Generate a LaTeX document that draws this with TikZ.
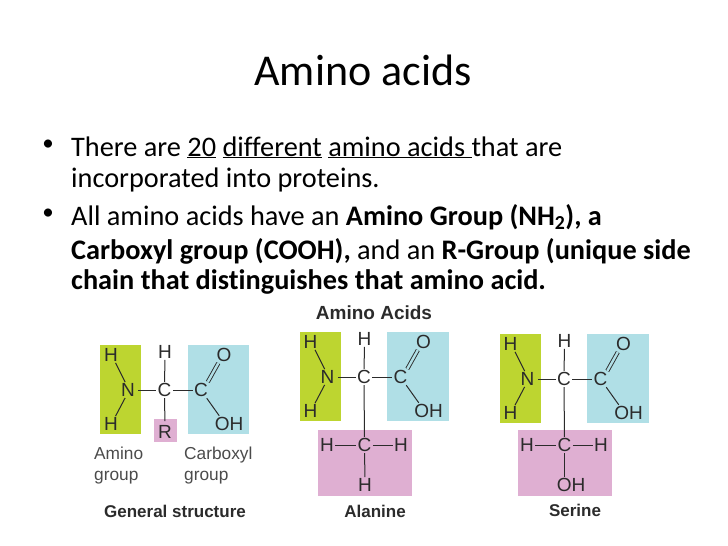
\documentclass[tikz,border=0pt]{standalone}
\usepackage{fontspec}
\setmainfont[Ligatures=NoCommon]{Carlito}
\newfontfamily\figfont{Liberation Sans}
\definecolor{aminogreen}{HTML}{BDD530}
\definecolor{carbblue}{HTML}{B0DFE6}
\definecolor{rpink}{HTML}{DFAFD2}
\definecolor{figink}{HTML}{2B2B2B}
\tikzset{
  bodyline/.style={anchor=base west,inner sep=0pt,font=\fontsize{28.3}{32}\selectfont,text=black},
  bulletmark/.style={anchor=base,inner sep=0pt,font=\fontsize{23}{32}\selectfont,text=black},
  titletext/.style={anchor=base,inner sep=0pt,font=\fontsize{44}{50}\selectfont,text=black},
  atom/.style={inner sep=1.2pt,font=\figfont\fontsize{19}{22}\selectfont,text=figink},
  grouplabel/.style={anchor=base west,inner sep=0pt,font=\figfont\fontsize{17.3}{20}\selectfont,text=figink!85},
  captiontext/.style={inner sep=0pt,font=\figfont\bfseries\fontsize{17}{20}\selectfont,text=figink},
  headtext/.style={inner sep=0pt,font=\figfont\bfseries\fontsize{19}{22}\selectfont,text=figink},
  bond/.style={draw=figink,line width=1pt},
  dbond/.style={draw=figink,line width=0.9pt,double=carbblue,double distance=2.4pt},
}
\newcommand{\aminocore}[3]{%
  \begin{scope}[shift={(#2,#3)}]
    \fill[aminogreen] (0,-45) rectangle (41,44);
    \fill[carbblue] (87.5,-45) rectangle (149,44);
    \node[atom] (#1n) at (28,0) {N};
    \node[atom] (#1h1) at (11,-35) {H};
    \node[atom] (#1h2) at (11,34) {H};
    \node[atom] (#1c) at (64.5,0) {C};
    \node[atom] (#1h3) at (65,-38) {H};
    \node[atom] (#1c2) at (101,0) {C};
    \node[atom] (#1o) at (124,-35) {O};
    \node[atom] (#1oh) at (129,34) {OH};
    \draw[bond] (#1h1.-60) -- (#1n.110);
    \draw[bond] (#1h2.60) -- (#1n.-110);
    \draw[bond] ([xshift=2pt]#1n.east) -- (#1c);
    \draw[bond] (#1c) -- (#1h3);
    \draw[bond] (#1c) -- (#1c2);
    \draw[dbond] (#1c2.50) -- (#1o.-125);
    \draw[bond] (#1c2.-55) -- (#1oh.140);
  \end{scope}}
\begin{document}
\begin{tikzpicture}[x=1pt,y=-1pt]
\useasboundingbox (0,0) rectangle (728,546);
\node[titletext] (title) at (363,85) {Amino acids};
\node[bulletmark] (b1) at (48,150.5) {•};
\node[bodyline] (l1) at (71,156) {There are \underline{20} \underline{different} \underline{amino acids\ }that are};
\node[bodyline] (l2) at (71,187) {incorporated into proteins.};
\node[bulletmark] (b2) at (48,219) {•};
\node[bodyline] (l3) at (71,225) {All amino acids have an \textbf{Amino Group (NH\textsubscript{2}), a}};
\node[bodyline] (l4) at (71,259) {\textbf{Carboxyl group (COOH),} and an \textbf{R-Group (unique side}};
\node[bodyline] (l5) at (71,289) {\textbf{chain that distinguishes that amino acid.}};

% General structure
\aminocore{g}{100}{390}
\fill[rpink] (154,419) rectangle (177,442);
\node[atom] (gr) at (165,432) {R};
\draw[bond,shorten >=3pt] (gc) -- (gr);
\node[grouplabel] (la1) at (94,459) {Amino};
\node[grouplabel] (la2) at (94,480) {group};
\node[grouplabel] (lc1) at (184,459) {Carboxyl};
\node[grouplabel] (lc2) at (184,480) {group};
\node[captiontext] (cap1) at (175,511) {General structure};

% Alanine
\node[headtext] (head) at (374,313) {Amino Acids};
\fill[rpink] (318,430) rectangle (412,496);
\aminocore{a}{299.5}{377}
\node[atom] (apc) at (364.5,445) {C};
\node[atom] (aph1) at (327,445) {H};
\node[atom] (aph2) at (401,445) {H};
\node[atom] (aph3) at (365,485) {H};
\draw[bond] (ac) -- (apc);
\draw[bond] (aph1) -- (apc);
\draw[bond] (apc) -- (aph2);
\draw[bond] (apc) -- (aph3);
\node[captiontext] (cap2) at (375,511) {Alanine};

% Serine
\fill[rpink] (518,430) rectangle (612,496);
\aminocore{s}{499.5}{379}
\node[atom] (spc) at (564.5,445) {C};
\node[atom] (sph1) at (527,445) {H};
\node[atom] (sph2) at (601,445) {H};
\node[atom] (spoh) at (571,485) {OH};
\draw[bond] (sc) -- (spc);
\draw[bond] (sph1) -- (spc);
\draw[bond] (spc) -- (sph2);
\draw[bond] (spc) -- (spoh.north -| spc);
\node[captiontext] (cap3) at (575,510) {Serine};
\end{tikzpicture}
\end{document}
